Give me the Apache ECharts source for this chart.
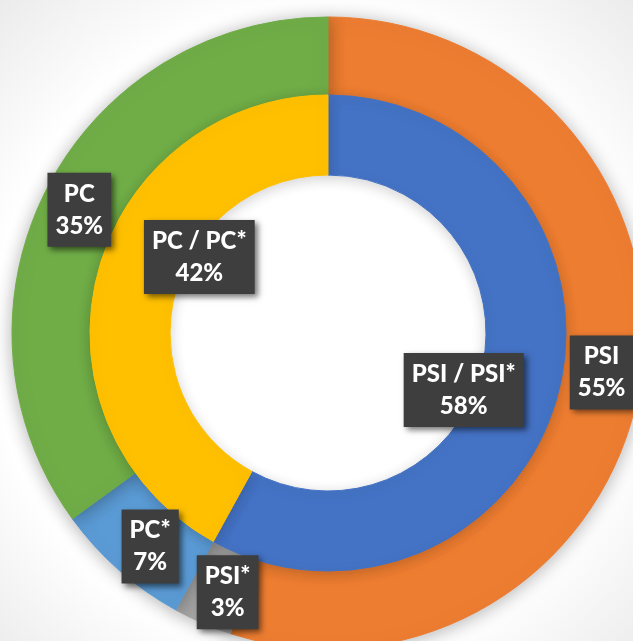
<!DOCTYPE html>
<html>
<head>
<meta charset="utf-8">
<script src="https://cdn.jsdelivr.net/npm/echarts@6/dist/echarts.min.js"></script>
<style>
html, body { margin: 0; padding: 0; }
#chart { width: 633px; height: 641px; }
</style>
</head>
<body>
<div id="chart"></div>
<script>
// outer ring
const outerNames = ['PSI', 'PSI*', 'PC*', 'PC'];
const outerValues = [55, 3, 7, 35];
const outerColors = ['#ED7D31', '#A5A5A5', '#5B9BD5', '#70AD47'];
// inner ring
const innerNames = ['PSI / PSI*', 'PC / PC*'];
const innerValues = [58, 42];
const innerColors = ['#4472C4', '#FFC000'];

// label nudges, like the hand-placed labels of the original
const outerOffsets = [[-1, -4], [10, 4], [6, 5], [-1, 3]];
const innerOffsets = [[-59, 7], [66, -26]];

const chart = echarts.init(document.getElementById('chart'));

const labelStyle = {
  show: true,
  position: 'inside',
  formatter: '{b}\n{d}%',
  color: '#fff',
  fontFamily: 'Lato',
  fontWeight: 900,
  fontSize: 24,
  lineHeight: 32,
  backgroundColor: '#3e3e3e',
  padding: [5, 8, 5, 8],
  shadowColor: 'rgba(0,0,0,0.55)',
  shadowBlur: 6,
  shadowOffsetX: 3,
  shadowOffsetY: 3
};

// border in the slice's own colour hides the seams between slices
const buildData = (names, values, colors, offsets) => names.map((n, i) => ({
  name: n,
  value: values[i],
  itemStyle: { color: colors[i], borderColor: colors[i], borderWidth: 1 },
  label: { offset: offsets[i] }
}));

const option = {
  backgroundColor: {
    type: 'radial', x: 0.5, y: 0.52, r: 0.75,
    colorStops: [
      { offset: 0, color: '#ffffff' },
      { offset: 0.68, color: '#ffffff' },
      { offset: 1, color: '#e9e9e9' }
    ]
  },
  animation: false,
  series: [
    {
      type: 'pie',
      center: [328, 333],
      radius: [234, 316],
      startAngle: 90,
      clockwise: true,
      padAngle: 0,
      avoidLabelOverlap: false,
      itemStyle: {
        shadowColor: 'rgba(0,0,0,0.3)',
        shadowBlur: 18,
        shadowOffsetY: 2
      },
      emphasis: { disabled: true },
      label: labelStyle,
      labelLine: { show: false },
      data: buildData(outerNames, outerValues, outerColors, outerOffsets)
    },
    {
      type: 'pie',
      center: [328, 333],
      radius: [158, 238],
      startAngle: 90,
      clockwise: true,
      padAngle: 0,
      avoidLabelOverlap: false,
      itemStyle: {
        shadowColor: 'rgba(0,0,0,0.18)',
        shadowBlur: 14,
        shadowOffsetY: 3
      },
      emphasis: { disabled: true },
      label: labelStyle,
      labelLine: { show: false },
      data: buildData(innerNames, innerValues, innerColors, innerOffsets)
    }
  ]
};

chart.setOption(option);
</script>
</body>
</html>
